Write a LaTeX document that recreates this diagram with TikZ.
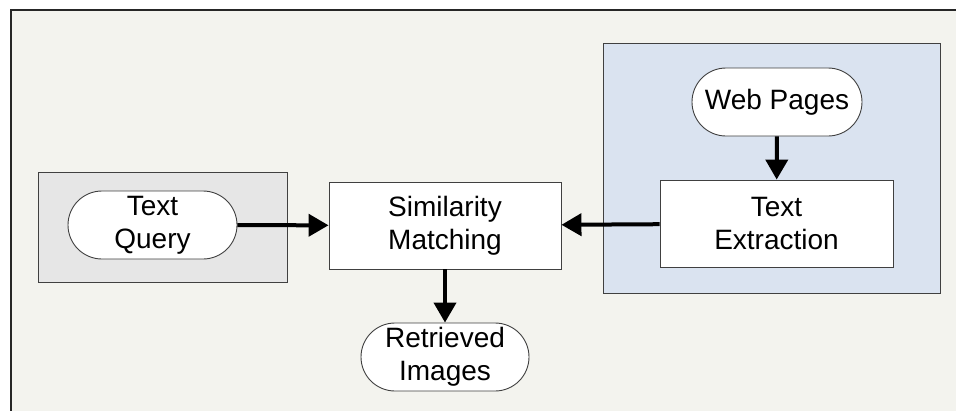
\documentclass[tikz,border=0pt]{standalone}
\usepackage{fontspec}
\setmainfont{Liberation Sans}
\usepackage{xcolor}
\usetikzlibrary{arrows.meta}

\definecolor{paper}{HTML}{F3F3EE}
\definecolor{querybg}{HTML}{E6E6E6}
\definecolor{webbg}{HTML}{DAE3F0}
\definecolor{edge}{HTML}{404040}

\begin{document}
\begin{tikzpicture}[x=1pt,y=-1pt,
    every node/.style={font=\fontsize{28}{33}\selectfont, align=center, inner sep=0pt},
    proc/.style={draw=edge, fill=white, line width=0.9pt, minimum width=232pt, minimum height=87pt},
    term/.style={draw=edge, fill=white, line width=0.9pt, rounded corners=34pt, minimum width=169pt, minimum height=68pt},
    flow/.style={line width=4pt, -{Triangle[length=20pt,width=22pt]}}]
      \useasboundingbox (0,0) rectangle (956,410);
      % page background and frame
      \fill[paper] (11,10) rectangle (960,420);
      \draw[line width=2.5pt, black!85] (11,420) -- (11,10) -- (960,10);
      % grouping panels
      \draw[edge, fill=querybg, line width=0.9pt] (38,172) rectangle (287,282);
      \draw[edge, fill=webbg, line width=0.9pt] (603,43) rectangle (940,293);
      % blocks
      \node[term] (query) at (152.5,225) {Text\\Query};
      \node[proc] (match) at (445,225.5) {Similarity\\Matching};
      \node[proc, minimum width=233pt] (extract) at (776.5,223.5) {Text\\Extraction};
      \node[term, minimum width=170pt] (web) at (777,102) {Web Pages};
      \node[term, minimum width=168pt] (result) at (445,357) {Retrieved\\Images};
      % connectors
      \draw[flow] (query) -- (match);
      \draw[flow] (extract) -- (match);
      \draw[flow] (web) -- (extract);
      \draw[flow] (match) -- (result);
    \end{tikzpicture}
\end{document}
